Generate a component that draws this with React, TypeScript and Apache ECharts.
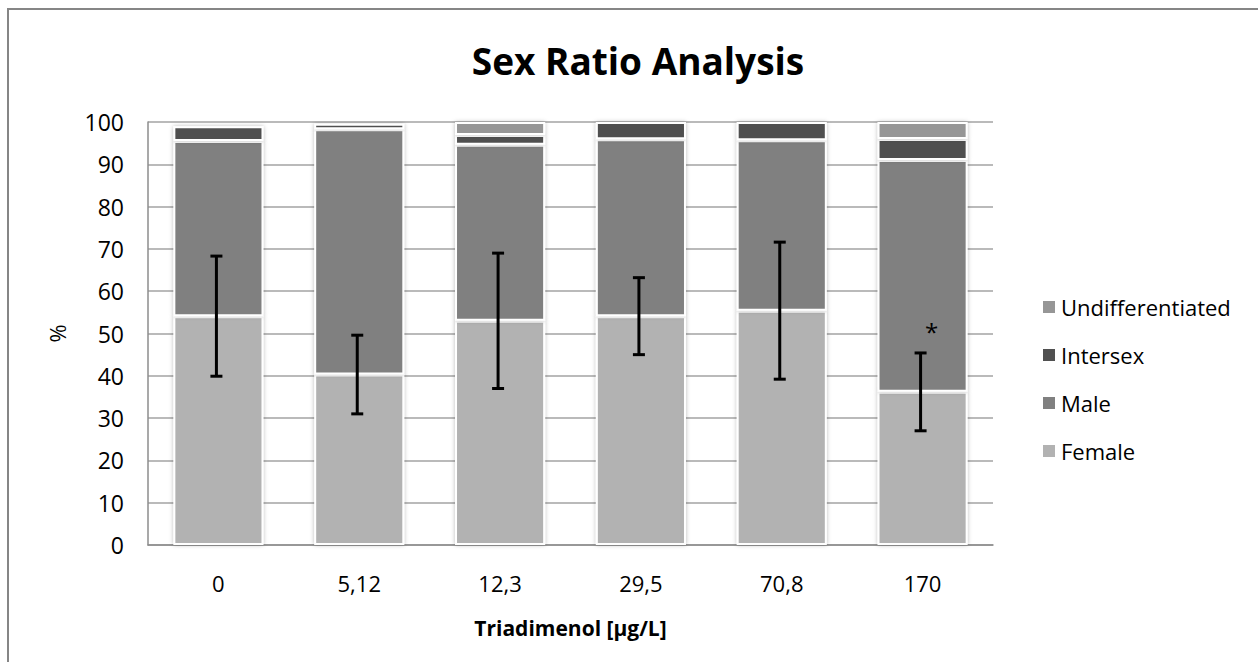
import React, { useEffect, useRef } from "react";
import * as echarts from "echarts";

const categories = ["0", "5,12", "12,3", "29,5", "70,8", "170"];
const female = [54.1, 40.3, 53.0, 54.1, 55.4, 36.2];
const male = [41.4, 58.0, 41.6, 41.8, 40.3, 54.8];
const intersex = [3.5, 1.3, 2.3, 4.1, 4.3, 5.0];
const undifferentiated = [0, 0, 3.1, 0, 0, 4.0];
const femaleSd = [14.2, 9.3, 16.0, 9.1, 16.2, 9.2];
const significance = ["", "", "", "", "", "*"];
const yTicks = { min: 0, max: 100, interval: 10 };

const FONT = "'Open Sans', 'Noto Sans', sans-serif";

export default function App() {
  const ref = useRef<HTMLDivElement>(null);
  useEffect(() => {
    if (!ref.current) return;
    const chart = echarts.init(ref.current, null, { renderer: "svg" });
    const segStyle = (color: string) => ({
      color,
      borderColor: "#ffffff",
      borderWidth: 2,
      shadowBlur: 4,
      shadowColor: "rgba(0,0,0,0.28)",
    });
    const barBase = {
      type: "bar" as const,
      stack: "total",
      barWidth: "64%",
      emphasis: { disabled: true },
    };
    const errData = categories.map((_, i) => [i, female[i], femaleSd[i], significance[i]]);
    chart.setOption({
      animation: false,
      textStyle: { fontFamily: FONT },
      title: {
        text: "Sex Ratio Analysis",
        left: 633,
        top: 37,
        textAlign: "center",
        textStyle: { fontFamily: FONT, fontWeight: "bold", fontSize: 37, color: "#000" },
      },
      graphic: [
        {
          type: "rect",
          shape: { x: 8, y: 9, width: 1300, height: 700 },
          style: { fill: "none", stroke: "#868686", lineWidth: 2 },
          silent: true,
        },
      ],
      legend: {
        orient: "vertical",
        left: 1036,
        top: 291,
        itemWidth: 14,
        itemHeight: 14,
        itemGap: 26,
        icon: "rect",
        data: ["Undifferentiated", "Intersex", "Male", "Female"],
        textStyle: { fontFamily: FONT, fontSize: 22, color: "#000", lineHeight: 22 },
      },
      grid: { left: 148, right: 265, top: 122, bottom: 117, containLabel: false },
      xAxis: {
        type: "category",
        data: categories,
        axisTick: { show: false },
        axisLine: { show: true, lineStyle: { color: "#8c8c8c", width: 1.5 } },
        axisLabel: { fontFamily: FONT, fontSize: 22, color: "#000", margin: 27 },
        name: "Triadimenol [µg/L]",
        nameLocation: "middle",
        nameGap: 72,
        nameTextStyle: { fontFamily: FONT, fontSize: 21, fontWeight: "bold", color: "#000" },
      },
      yAxis: {
        type: "value",
        min: yTicks.min,
        max: yTicks.max,
        interval: yTicks.interval,
        axisLine: { show: true, lineStyle: { color: "#8c8c8c", width: 1.5 } },
        axisTick: { show: false },
        splitLine: { show: true, lineStyle: { color: "#a3a3a3", width: 1.5 } },
        axisLabel: { fontFamily: FONT, fontSize: 23, color: "#000", margin: 24 },
        name: "%",
        nameLocation: "middle",
        nameRotate: 90,
        nameGap: 80,
        nameTextStyle: { fontFamily: FONT, fontSize: 22, color: "#000" },
      },
      series: [
        { ...barBase, name: "Female", data: female, itemStyle: segStyle("#b2b2b2") },
        { ...barBase, name: "Male", data: male, itemStyle: segStyle("#808080") },
        { ...barBase, name: "Intersex", data: intersex, itemStyle: segStyle("#505050") },
        { ...barBase, name: "Undifferentiated", data: undifferentiated, itemStyle: segStyle("#969696") },
        {
          type: "custom",
          name: "Female SD",
          silent: true,
          z: 10,
          data: errData,
          encode: { x: 0, y: 1 },
          renderItem: (params: any, api: any) => {
            const idx = api.value(0);
            const v = api.value(1);
            const sd = api.value(2);
            const top = api.coord([idx, v + sd]);
            const bot = api.coord([idx, v - sd]);
            const x = top[0] - 2;
            const cap = 6;
            const st = { stroke: "#000", lineWidth: 3 };
            const children: any[] = [
              { type: "line", shape: { x1: x, y1: top[1], x2: x, y2: bot[1] }, style: st },
              { type: "line", shape: { x1: x - cap, y1: top[1], x2: x + cap, y2: top[1] }, style: st },
              { type: "line", shape: { x1: x - cap, y1: bot[1], x2: x + cap, y2: bot[1] }, style: st },
            ];
            const mark = significance[idx];
            if (mark) {
              children.push({
                type: "text",
                style: {
                  text: mark,
                  x: x + 11,
                  y: top[1] - 21,
                  align: "center",
                  verticalAlign: "middle",
                  font: `24px ${FONT}`,
                  fill: "#000",
                },
              });
            }
            return { type: "group", children };
          },
        },
      ],
    });
    return () => chart.dispose();
  }, []);
  return (
    <div
      ref={ref}
      style={{ position: "fixed", left: 0, top: 0, width: 1258, height: 662, background: "#fff" }}
    />
  );
}
